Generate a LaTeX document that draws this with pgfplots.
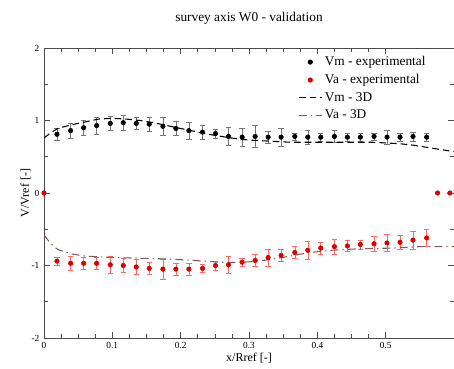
\documentclass[border=0pt]{standalone}
\usepackage{fontspec}
\setmainfont{Liberation Serif}
\usepackage{pgfplots}
\pgfplotsset{compat=1.18}
\definecolor{vadash}{rgb}{0.5,0.35,0.35}
\begin{document}
\begin{tikzpicture}
\begin{axis}[
  scale only axis,
  width=307.5pt, height=217.5pt,
  xmin=0, xmax=0.6, ymin=-2, ymax=2,
  xtick={0,0.1,0.2,0.3,0.4,0.5},
  ytick={-2,-1,0,1,2},
  minor x tick num=3,
  minor y tick num=1,
  tick align=inside,
  axis line style={black!70},
  every tick/.style={black!70},
  /pgf/number format/assume math mode=true,
  tick label style={font=\fontsize{7}{8}\selectfont},
  xticklabel style={/pgf/number format/fixed},
  title={survey axis W0 - validation},
  title style={font=\fontsize{10}{12}\selectfont, yshift=8pt},
  xlabel={x/Rref [-]},
  ylabel={V/Vref [-]},
  label style={font=\fontsize{9}{10}\selectfont},
  xlabel style={yshift=4pt},
  ylabel style={yshift=-6pt},
  legend style={at={(rel axis cs:0.61,0.99)}, anchor=north west, draw=none, fill=none,
    font=\fontsize{10}{12}\selectfont, row sep=1pt},
  legend cell align=left,
]
% Vm experimental
\addplot[only marks, mark=*, mark size=1.7pt, black,
  error bars/.cd, y dir=both, y explicit, error bar style={black!55, line width=0.4pt},
  error mark options={rotate=90, mark size=2pt, black!55}]
  table[x=x, y=y, y error=e] {
x y e
0.019 0.81 0.08
0.039 0.86 0.10
0.058 0.90 0.10
0.077 0.93 0.12
0.097 0.96 0.10
0.116 0.97 0.10
0.135 0.96 0.08
0.154 0.95 0.10
0.174 0.92 0.12
0.193 0.89 0.10
0.212 0.86 0.12
0.232 0.84 0.10
0.251 0.82 0.06
0.270 0.78 0.12
0.290 0.77 0.12
0.309 0.78 0.15
0.328 0.77 0.08
0.347 0.77 0.12
0.367 0.78 0.05
0.386 0.77 0.10
0.405 0.77 0.05
0.425 0.78 0.08
0.444 0.77 0.05
0.463 0.77 0.06
0.483 0.78 0.05
0.502 0.77 0.10
0.521 0.77 0.05
0.540 0.78 0.06
0.560 0.77 0.06
};
\addlegendentry{Vm - experimental}
% Va experimental
\addplot[only marks, mark=*, mark size=1.7pt, red!85!black,
  error bars/.cd, y dir=both, y explicit, error bar style={red!60, line width=0.4pt},
  error mark options={rotate=90, mark size=2pt, red!60}]
  table[x=x, y=y, y error=e] {
x y e
0.000 0.00 0.00
0.019 -0.94 0.06
0.039 -0.97 0.10
0.058 -0.97 0.08
0.077 -0.97 0.08
0.097 -0.99 0.12
0.116 -1.00 0.10
0.135 -1.02 0.10
0.154 -1.04 0.08
0.174 -1.05 0.14
0.193 -1.05 0.08
0.212 -1.05 0.08
0.232 -1.04 0.06
0.251 -1.00 0.06
0.270 -0.99 0.12
0.290 -0.955 0.06
0.309 -0.93 0.08
0.328 -0.89 0.12
0.347 -0.86 0.08
0.367 -0.82 0.08
0.386 -0.79 0.12
0.405 -0.76 0.08
0.425 -0.74 0.10
0.444 -0.73 0.08
0.463 -0.71 0.06
0.483 -0.70 0.10
0.502 -0.69 0.12
0.521 -0.68 0.10
0.540 -0.65 0.12
0.560 -0.62 0.12
0.576 0.00 0.00
0.594 0.00 0.00
};
\addlegendentry{Va - experimental}
% Vm 3D
\addplot[black, line width=0.8pt, dash pattern=on 5pt off 3pt] coordinates {
(0,0.76) (0.01,0.83) (0.02,0.89) (0.04,0.94) (0.06,0.98) (0.08,1.02) (0.10,1.03)
(0.12,1.02) (0.14,1.00) (0.16,0.97) (0.18,0.93) (0.20,0.89) (0.22,0.85) (0.24,0.81)
(0.26,0.78) (0.28,0.75) (0.30,0.73) (0.32,0.72) (0.34,0.71) (0.36,0.70) (0.38,0.70)
(0.40,0.70) (0.42,0.70) (0.44,0.70) (0.46,0.70) (0.48,0.70) (0.50,0.69) (0.52,0.68)
(0.54,0.66) (0.56,0.63) (0.58,0.60) (0.60,0.57)
};
\addlegendentry{Vm - 3D}
% Va 3D
\addplot[vadash, line width=0.8pt, dash pattern=on 6pt off 3pt on 1pt off 3pt] coordinates {
(0,-0.58) (0.01,-0.70) (0.02,-0.78) (0.04,-0.84) (0.06,-0.87) (0.08,-0.88) (0.10,-0.89)
(0.14,-0.90) (0.18,-0.91) (0.22,-0.93) (0.25,-0.95) (0.27,-0.96) (0.30,-0.95)
(0.33,-0.92) (0.36,-0.87) (0.39,-0.82) (0.42,-0.79) (0.46,-0.77) (0.51,-0.76)
(0.55,-0.74) (0.60,-0.74)
};
\addlegendentry{Va - 3D}
\end{axis}
\pgfresetboundingbox
\path[use as bounding box] ([xshift=-33pt,yshift=-23.25pt]current axis.south west) rectangle ([yshift=36pt]current axis.north east);
\end{tikzpicture}
\end{document}
